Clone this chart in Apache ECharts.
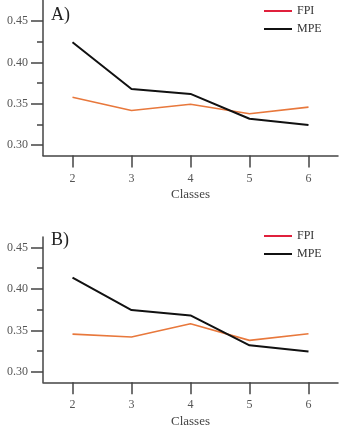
<!DOCTYPE html>
<html><head><meta charset="utf-8">
<script src="https://cdn.jsdelivr.net/npm/echarts@6/dist/echarts.min.js"></script>
<style>html,body{margin:0;padding:0;background:#fff}#c{width:350px;height:430px}</style>
</head><body><div id="c"></div>
<script>
const classes = ['2','3','4','5','6'];
const fpiA = [0.358, 0.342, 0.3495, 0.338, 0.346];
const mpeA = [0.4245, 0.368, 0.362, 0.332, 0.3245];
const fpiB = [0.3455, 0.342, 0.358, 0.338, 0.346];
const mpeB = [0.4135, 0.3745, 0.368, 0.332, 0.3245];
const majorTicks = [0.30, 0.35, 0.40, 0.45];
const minorTicks = [0.325, 0.375, 0.425];
const panelLabels = ['A)', 'B)'];

const FONT = 'Liberation Serif';
const axisCol = '#444';
const orange = '#e8783c';
const black = '#111';
const red = '#e0203c';

const grids = [
  {left: 43, right: 12, top: 0.5, height: 155},
  {left: 43, right: 12, top: 237, height: 145.3}
];
const yRanges = [[0.2875, 0.475], [0.2875, 0.4625]];

const xAxis = [], yAxis = [];
grids.forEach((g, i) => {
  xAxis.push({
    type: 'category', gridIndex: i, data: classes, boundaryGap: true,
    name: 'Classes', nameLocation: 'middle', nameGap: 33,
    nameTextStyle: {fontFamily: FONT, fontSize: 13, color: '#444'},
    axisLine: {show: true, lineStyle: {color: axisCol, width: 1.5}},
    axisTick: {show: true, interval: 0, alignWithLabel: true, length: 12, lineStyle: {color: axisCol, width: 1.5}},
    axisLabel: {fontFamily: FONT, fontSize: 12, color: '#555', margin: 17, interval: 0},
    splitLine: {show: false}
  });
  yAxis.push({
    type: 'value', gridIndex: i, min: yRanges[i][0], max: yRanges[i][1],
    axisLine: {show: true, lineStyle: {color: axisCol, width: 1.5}},
    axisTick: {show: true, length: 12, customValues: majorTicks, lineStyle: {color: axisCol, width: 1.5}},
    axisLabel: {fontFamily: FONT, fontSize: 12, color: '#555', margin: 15, customValues: majorTicks,
      formatter: v => v.toFixed(2)},
    splitLine: {show: false}
  });
  yAxis.push({
    type: 'value', gridIndex: i, min: yRanges[i][0], max: yRanges[i][1], position: 'left',
    axisLine: {show: false},
    axisTick: {show: true, length: 6, customValues: minorTicks, lineStyle: {color: axisCol, width: 1.5}},
    axisLabel: {show: false, customValues: minorTicks},
    splitLine: {show: false}
  });
});

const series = [];
[[fpiA, mpeA], [fpiB, mpeB]].forEach((pair, i) => {
  series.push({name: 'FPI', type: 'line', xAxisIndex: i, yAxisIndex: i * 2, data: pair[0],
    symbol: 'none', lineStyle: {color: orange, width: 1.6}, itemStyle: {color: orange}, animation: false});
  series.push({name: 'MPE', type: 'line', xAxisIndex: i, yAxisIndex: i * 2, data: pair[1],
    symbol: 'none', lineStyle: {color: black, width: 2}, itemStyle: {color: black}, animation: false});
});

const legends = [4, 229].map(t => ({
  orient: 'vertical', left: 264, top: t, padding: 0, itemWidth: 28, itemHeight: 2, itemGap: 4,
  selectedMode: false, icon: 'rect',
  textStyle: {fontFamily: FONT, fontSize: 12, color: '#333', lineHeight: 14},
  data: [
    {name: 'FPI', itemStyle: {color: red}},
    {name: 'MPE', itemStyle: {color: black}}
  ]
}));

const chart = echarts.init(document.getElementById('c'), null, {renderer: 'canvas'});
chart.setOption({
  animation: false,
  grid: grids,
  xAxis, yAxis, series,
  legend: legends,
  graphic: [
    {type: 'text', left: 51, top: 6, style: {text: panelLabels[0], font: '18px "Liberation Serif"', fill: '#222'}},
    {type: 'text', left: 51, top: 231, style: {text: panelLabels[1], font: '18px "Liberation Serif"', fill: '#222'}}
  ]
});
</script>
</body></html>
